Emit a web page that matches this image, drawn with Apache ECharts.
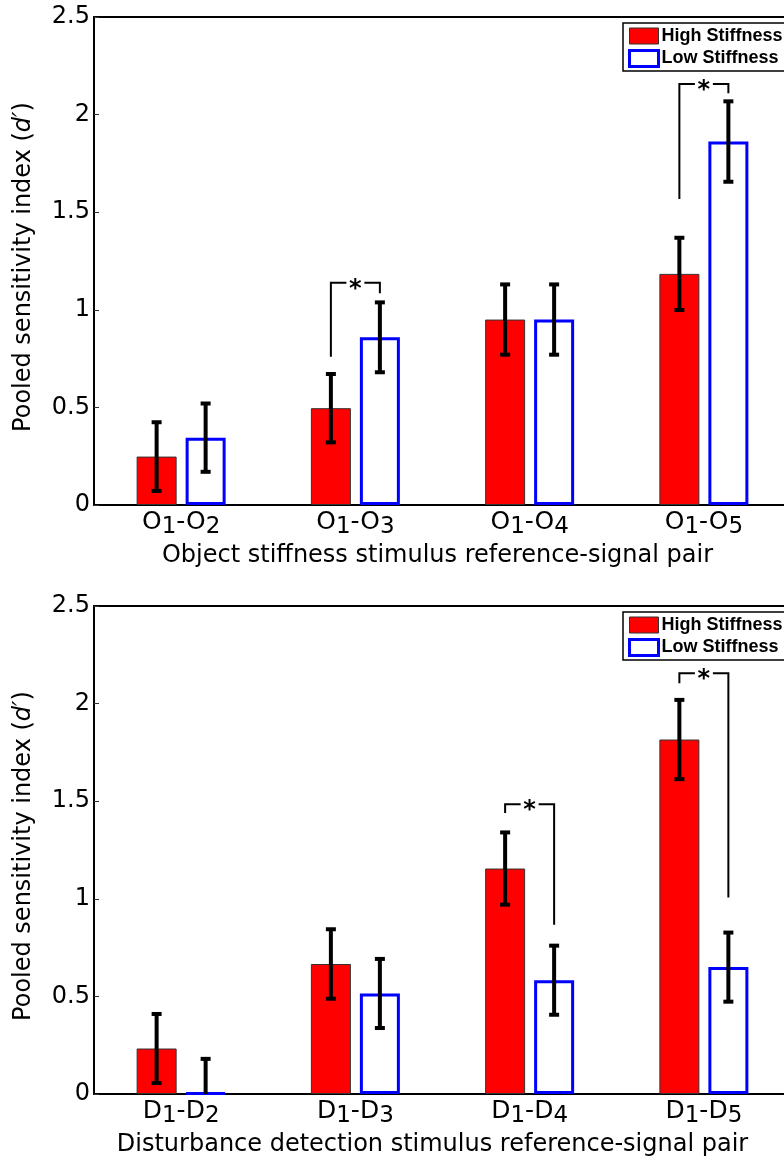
<!DOCTYPE html>
<html>
<head>
<meta charset="utf-8">
<script src="https://cdn.jsdelivr.net/npm/echarts@6/dist/echarts.min.js"></script>
<style>
  html, body { margin: 0; padding: 0; background: #fff; width: 784px; height: 1160px; overflow: hidden; }
  #main { width: 800px; height: 1160px; }
</style>
</head>
<body>
<div id="main"></div>
<script>
// categories
var catsTop = ['O1-O2', 'O1-O3', 'O1-O4', 'O1-O5'];
var catsBot = ['D1-D2', 'D1-D3', 'D1-D4', 'D1-D5'];

// object stiffness (top panel)
var highTop = [0.248, 0.496, 0.95, 1.184];
var highTopErr = [0.176, 0.175, 0.18, 0.185];
var lowTop = [0.345, 0.859, 0.95, 1.862];
var lowTopErr = [0.175, 0.179, 0.18, 0.206];

// disturbance detection (bottom panel)
var highBot = [0.233, 0.666, 1.155, 1.816];
var highBotErr = [0.177, 0.178, 0.185, 0.203];
var lowBot = [0.005, 0.515, 0.583, 0.65];
var lowBotErr = [0.175, 0.177, 0.177, 0.177];

// significance brackets: [category, left leg bottom, right leg bottom, top]
var bracketsTop = [[1, 0.76, 1.085, 1.139], [3, 1.568, 2.109, 2.157]];
var bracketsBot = [[2, 1.439, 0.867, 1.485], [3, 2.104, 1.007, 2.156]];

var yTicks = [0, 0.5, 1, 1.5, 2, 2.5];

var BAR_W = 40;
var BAR_GAP = 9;
var OFF = (BAR_W + BAR_GAP) / 2;
var FONT = 'DejaVu Sans';

function errData(vals, errs, side) {
    return vals.map(function (v, i) { return [i, v - errs[i], v + errs[i], side]; });
}

function renderErr(params, api) {
    var c = api.value(0);
    var side = api.value(3);
    var lo = api.coord([c, api.value(1)]);
    var hi = api.coord([c, api.value(2)]);
    var x = lo[0] + side * OFF;
    var st = { stroke: '#000', lineWidth: 4 };
    return {
        type: 'group',
        children: [
            { type: 'line', shape: { x1: x, y1: lo[1], x2: x, y2: hi[1] }, style: st },
            { type: 'line', shape: { x1: x - 5, y1: hi[1], x2: x + 5, y2: hi[1] }, style: { stroke: '#000', lineWidth: 4 } },
            { type: 'line', shape: { x1: x - 5, y1: lo[1], x2: x + 5, y2: lo[1] }, style: { stroke: '#000', lineWidth: 4 } }
        ]
    };
}

function renderBracket(params, api) {
    var c = api.value(0);
    var pl = api.coord([c, api.value(1)]);
    var pr = api.coord([c, api.value(2)]);
    var pt = api.coord([c, api.value(3)]);
    var xl = pl[0] - OFF, xr = pl[0] + OFF, xm = pl[0];
    var st = { stroke: '#000', lineWidth: 2, fill: null };
    return {
        type: 'group',
        children: [
            { type: 'polyline', shape: { points: [[xl, pl[1]], [xl, pt[1]], [xm - 9, pt[1]]] }, style: st },
            { type: 'polyline', shape: { points: [[xm + 9, pt[1]], [xr, pt[1]], [xr, pr[1]]] }, style: st },
            { type: 'text', x: xm, y: pt[1] + 7, style: { text: '*', fontSize: 24, fontWeight: 'bold', fontFamily: FONT, fill: '#000', align: 'center', verticalAlign: 'middle' } }
        ]
    };
}

function subLabel(v) {
    return v.replace(/([A-Z-]+)|(\d)/g, function (m, a, d) {
        return a ? '{n|' + a + '}' : '{s|' + d + '}';
    });
}

function xAxisBottom(gi, cats, title, shift) {
    return {
        type: 'category', gridIndex: gi, position: 'bottom', data: cats,
        axisLine: { lineStyle: { color: '#000', width: 2 } },
        axisTick: { inside: true, alignWithLabel: true, length: 5, lineStyle: { color: '#333' } },
        axisLabel: {
            margin: 5, formatter: subLabel,
            rich: {
                n: { fontFamily: FONT, fontSize: 25, color: '#000', lineHeight: 29, verticalAlign: 'top' },
                s: { fontFamily: FONT, fontSize: 23, color: '#000', verticalAlign: 'bottom' }
            }
        },
        name: title, nameLocation: 'middle', nameGap: 39,
        nameTextStyle: { fontFamily: FONT, fontSize: 24, color: '#000', padding: [0, shift, 0, 0] }
    };
}

function xAxisTop(gi, cats) {
    return {
        type: 'category', gridIndex: gi, position: 'top', data: cats,
        axisLine: { lineStyle: { color: '#000', width: 2 } },
        axisTick: { inside: true, alignWithLabel: true, length: 5, lineStyle: { color: '#333' } },
        axisLabel: { show: false }
    };
}

function yAxis(gi) {
    return {
        type: 'value', gridIndex: gi, min: 0, max: 2.5, interval: 0.5,
        axisLine: { show: true, lineStyle: { color: '#000', width: 2 } },
        axisTick: { show: true, inside: true, length: 5, lineStyle: { color: '#333' } },
        splitLine: { show: false },
        axisLabel: {
            margin: 4, fontFamily: FONT, fontSize: 24, color: '#000',
            formatter: function (v) { return yTicks.indexOf(v) >= 0 ? String(v) : ''; }
        },
        name: '{a|Pooled sensitivity index (}{i|d′}{a|)}',
        nameLocation: 'middle', nameGap: 58, nameRotate: 90,
        nameTextStyle: {
            padding: [0, 12, 0, 0],
            rich: {
                a: { fontFamily: FONT, fontSize: 24, color: '#000' },
                i: { fontFamily: FONT, fontSize: 24, color: '#000', fontStyle: 'italic' }
            }
        }
    };
}

function barSeries(name, vals, xi, yi, isHigh) {
    return {
        name: name, type: 'bar', xAxisIndex: xi, yAxisIndex: yi, data: vals,
        barWidth: BAR_W, barGap: (BAR_GAP / BAR_W * 100) + '%',
        itemStyle: isHigh
            ? { color: '#ff0000', borderColor: '#333', borderWidth: 1 }
            : { color: '#ffffff', borderColor: '#0000ff', borderWidth: 3 },
        z: 2
    };
}

function legend(top) {
    return {
        orient: 'vertical', left: 623, top: top,
        itemWidth: 29, itemHeight: 16, itemGap: 4,
        padding: [4, 6, 3, 5],
        borderColor: '#000', borderWidth: 1.5, backgroundColor: '#fff',
        textStyle: { fontFamily: 'Liberation Sans', fontWeight: 'bold', fontSize: 18, color: '#000', padding: [0, 0, 0, -2] },
        selectedMode: false,
        data: [
            { name: 'High Stiffness', icon: 'rect', itemStyle: { color: '#ff0000', borderColor: '#333', borderWidth: 1 } },
            { name: 'Low Stiffness', icon: 'rect', itemStyle: { color: '#ffffff', borderColor: '#0000ff', borderWidth: 3 } }
        ]
    };
}

var chart = echarts.init(document.getElementById('main'));
chart.setOption({
    animation: false,
    backgroundColor: '#fff',
    grid: [
        { left: 94, top: 17, width: 697, height: 488 },
        { left: 94, top: 606, width: 697, height: 488 }
    ],
    legend: [legend(23), legend(612)],
    xAxis: [
        xAxisBottom(0, catsTop, 'Object stiffness stimulus reference-signal pair', 10),
        xAxisTop(0, catsTop),
        xAxisBottom(1, catsBot, 'Disturbance detection stimulus reference-signal pair', 20),
        xAxisTop(1, catsBot)
    ],
    yAxis: [yAxis(0), yAxis(1)],
    series: [
        barSeries('High Stiffness', highTop, 0, 0, true),
        barSeries('Low Stiffness', lowTop, 0, 0, false),
        barSeries('High Stiffness', highBot, 2, 1, true),
        barSeries('Low Stiffness', lowBot, 2, 1, false),
        {
            type: 'custom', xAxisIndex: 0, yAxisIndex: 0, z: 5, clip: true,
            renderItem: renderErr, encode: { x: 0, y: [1, 2] },
            data: errData(highTop, highTopErr, -1).concat(errData(lowTop, lowTopErr, 1))
        },
        {
            type: 'custom', xAxisIndex: 2, yAxisIndex: 1, z: 5, clip: true,
            renderItem: renderErr, encode: { x: 0, y: [1, 2] },
            data: errData(highBot, highBotErr, -1).concat(errData(lowBot, lowBotErr, 1))
        },
        {
            type: 'custom', xAxisIndex: 0, yAxisIndex: 0, z: 5,
            renderItem: renderBracket, encode: { x: 0, y: [1, 2, 3] },
            data: bracketsTop
        },
        {
            type: 'custom', xAxisIndex: 2, yAxisIndex: 1, z: 5,
            renderItem: renderBracket, encode: { x: 0, y: [1, 2, 3] },
            data: bracketsBot
        }
    ]
});
</script>
</body>
</html>
